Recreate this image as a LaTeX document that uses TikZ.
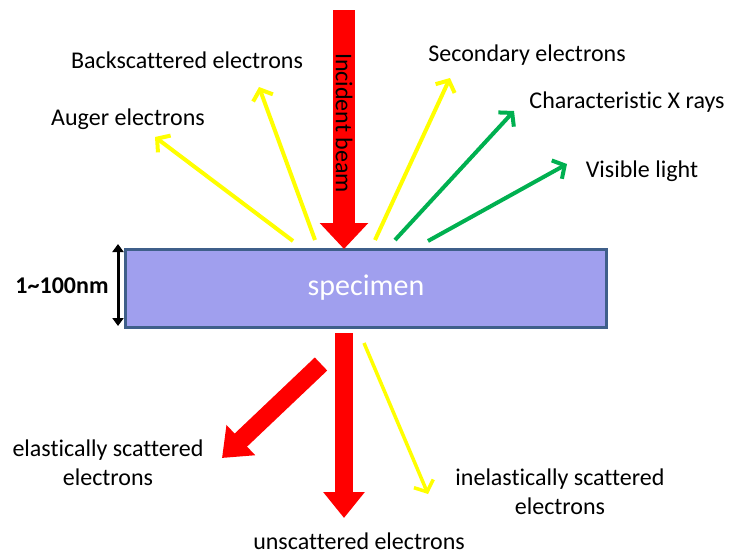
\documentclass[tikz,border=0pt]{standalone}
\usepackage{fontspec}
\setmainfont[Ligatures=NoCommon]{Carlito}
\usetikzlibrary{arrows.meta}
\definecolor{beamred}{HTML}{FF0000}
\definecolor{sigyellow}{HTML}{FFFF00}
\definecolor{siggreen}{HTML}{00B050}
\definecolor{specfill}{HTML}{A09FEE}
\definecolor{specdraw}{HTML}{3F5F8A}
\tikzstyle{label}=[font=\fontsize{24}{29}\selectfont, align=center, inner sep=0pt]
\tikzstyle{bigbeam}=[draw=beamred, line width=22pt, -{Triangle[width=47pt,length=26pt]}]
\tikzstyle{electron}=[draw=sigyellow, line width=4pt, -{Straight Barb[length=9pt,width=21pt]}]
\tikzstyle{photon}=[draw=siggreen, line width=4pt, -{Straight Barb[length=9pt,width=21pt]}]

\begin{document}
\begin{tikzpicture}[x=1pt, y=-1pt]
    \useasboundingbox (0,0) rectangle (730,554);
    \node[draw=specdraw, fill=specfill, line width=3pt, minimum width=481pt, minimum height=78pt,
          text=white, font=\fontsize{30}{34}\selectfont] (specimen) at (366,288) {specimen};

    \node[label] (back)    at (187,60)  {Backscattered electrons};
    \node[label] (auger)   at (128,119) {Auger electrons};
    \node[label] (second)  at (527,55)  {Secondary electrons};
    \node[label] (xray)    at (627,102) {Characteristic X rays};
    \node[label] (light)   at (642,171) {Visible light};
    \node[label] (elastic) at (108,463) {elastically scattered\\electrons};
    \node[label] (inelast) at (560,492) {inelastically scattered\\electrons};
    \node[label] (unscat)  at (359,541) {unscattered electrons};
    \node[label, font=\fontsize{24}{29}\selectfont\bfseries] (thick) at (62,286) {1\textasciitilde100nm};

    % start and end points of the beams
    \coordinate (beamtop)  at (344,10);
    \coordinate (beamhit)  at (344,249);
    \coordinate (backS)    at (315,240);
    \coordinate (backE)    at (259,87);
    \coordinate (augerS)   at (293,241);
    \coordinate (augerE)   at (155,137);
    \coordinate (secS)     at (375,240);
    \coordinate (secE)     at (450,78);
    \coordinate (xrayS)    at (395,240);
    \coordinate (xrayE)    at (514,111);
    \coordinate (lightS)   at (428,241);
    \coordinate (lightE)   at (567,164);
    \coordinate (elS)      at (321,364);
    \coordinate (elE)      at (222,458);
    \coordinate (unS)      at (344,333);
    \coordinate (unE)      at (344,518);
    \coordinate (inS)      at (364,343);
    \coordinate (inE)      at (428,494);
    \coordinate (barT)     at (118,244);
    \coordinate (barB)     at (118,326);

    \draw[bigbeam] (beamtop) -- (beamhit);
    \node[rotate=-90, font=\fontsize{24}{29}\selectfont, inner sep=0pt] (incident) at (344,123) {Incident beam};

    \draw[electron] (backS)  -- (backE);
    \draw[electron] (augerS) -- (augerE);
    \draw[electron] (secS)   -- (secE);
    \draw[photon]   (xrayS)  -- (xrayE);
    \draw[photon]   (lightS) -- (lightE);

    \draw[bigbeam, line width=18pt, -{Triangle[width=40pt,length=26pt]}] (unS) -- (unE);
    \draw[bigbeam, line width=18pt, -{Triangle[width=40pt,length=26pt]}] (elS) -- (elE);
    \draw[electron, line width=3.5pt] (inS) -- (inE);

    \draw[line width=3pt, {Triangle[width=11pt,length=8pt]}-{Triangle[width=11pt,length=8pt]}] (barT) -- (barB);
  \end{tikzpicture}
\end{document}
